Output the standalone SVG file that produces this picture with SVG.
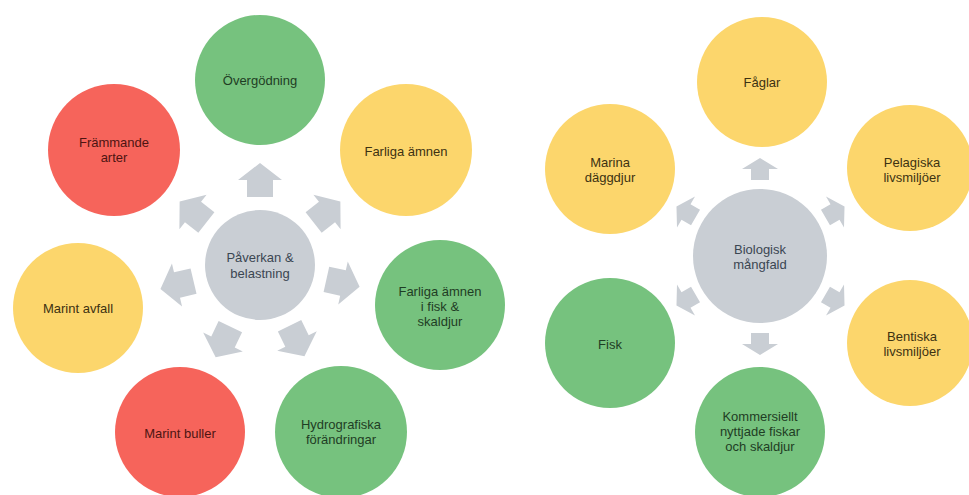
<svg xmlns="http://www.w3.org/2000/svg" xmlns:xlink="http://www.w3.org/1999/xlink" width="969" height="495" viewBox="0 0 969 495">
<style>
text{font-family:"Liberation Sans",Arial,sans-serif;font-size:13px;text-anchor:middle}
.g{fill:#76c27e}.r{fill:#f6645b}.y{fill:#fcd66c}.c{fill:#c9ced4}
.tg{fill:#1f3d24}.tr{fill:#4d1412}.ty{fill:#3d3212}.tc{fill:#3b4652}
.ar{fill:#c9ced4}
</style>
<defs>
<path id="aL" d="M-17,-13 H0 V-22 L17,0 L0,22 V13 H-17 Z"/>
<path id="aR" d="M-11,-9 H0 V-18 L11,0 L0,18 V9 H-11 Z"/>
</defs>
<rect width="969" height="495" fill="#ffffff"/>
<g id="connectors" class="ar">
<use href="#aL" transform="translate(260,180) rotate(-90)"/>
<use href="#aL" transform="translate(193,212) rotate(-141.8)"/>
<use href="#aL" transform="translate(327,212) rotate(-38.2)"/>
<use href="#aL" transform="translate(177,285) rotate(166.7)"/>
<use href="#aL" transform="translate(343,283) rotate(12.5)"/>
<use href="#aL" transform="translate(223,342) rotate(115.6)"/>
<use href="#aL" transform="translate(297,341) rotate(64)"/>
<use href="#aR" transform="translate(760,169) rotate(-90)"/>
<use href="#aR" transform="translate(686,212) rotate(-150)"/>
<use href="#aR" transform="translate(835,212) rotate(-30)"/>
<use href="#aR" transform="translate(686,300) rotate(150)"/>
<use href="#aR" transform="translate(835,300) rotate(30)"/>
<use href="#aR" transform="translate(760,344) rotate(90)"/>
</g>
<g id="paverkan"><circle class="c" cx="260" cy="265" r="55"/><text class="tc" x="260" y="262">Påverkan &amp;</text><text class="tc" x="260" y="278">belastning</text></g>
<g id="overgodning"><circle class="g" cx="260" cy="80" r="65"/><text class="tg" x="260" y="85">Övergödning</text></g>
<g id="frammande"><circle class="r" cx="114" cy="150" r="66"/><text class="tr" x="114" y="147">Främmande</text><text class="tr" x="114" y="162">arter</text></g>
<g id="farliga"><circle class="y" cx="406" cy="150" r="66"/><text class="ty" x="406" y="156">Farliga ämnen</text></g>
<g id="avfall"><circle class="y" cx="78" cy="308" r="65"/><text class="ty" x="78" y="313">Marint avfall</text></g>
<g id="farligafisk"><circle class="g" cx="440" cy="305" r="65"/><text class="tg" x="440" y="296">Farliga ämnen</text><text class="tg" x="440" y="311">i fisk &amp;</text><text class="tg" x="440" y="326">skaldjur</text></g>
<g id="buller"><circle class="r" cx="180" cy="432" r="65"/><text class="tr" x="180" y="438">Marint buller</text></g>
<g id="hydro"><circle class="g" cx="341" cy="432" r="66"/><text class="tg" x="341" y="429">Hydrografiska</text><text class="tg" x="341" y="444">förändringar</text></g>
<g id="bio"><circle class="c" cx="760" cy="256" r="67"/><text class="tc" x="760" y="254">Biologisk</text><text class="tc" x="760" y="269">mångfald</text></g>
<g id="faglar"><circle class="y" cx="762" cy="82" r="65"/><text class="ty" x="762" y="87">Fåglar</text></g>
<g id="daggdjur"><circle class="y" cx="610" cy="169" r="65"/><text class="ty" x="610" y="167">Marina</text><text class="ty" x="610" y="182">däggdjur</text></g>
<g id="pelagiska"><circle class="y" cx="910" cy="168" r="63"/><text class="ty" x="912" y="167">Pelagiska</text><text class="ty" x="912" y="182">livsmiljöer</text></g>
<g id="fisk"><circle class="g" cx="610" cy="343" r="65"/><text class="tg" x="610" y="349">Fisk</text></g>
<g id="bentiska"><circle class="y" cx="910" cy="343" r="63"/><text class="ty" x="912" y="341">Bentiska</text><text class="ty" x="912" y="356">livsmiljöer</text></g>
<g id="kommersiellt"><circle class="g" cx="760" cy="432" r="65"/><text class="tg" x="760" y="421">Kommersiellt</text><text class="tg" x="760" y="436">nyttjade fiskar</text><text class="tg" x="760" y="451">och skaldjur</text></g>
</svg>
